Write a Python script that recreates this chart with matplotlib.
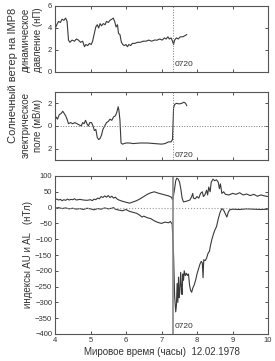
import matplotlib
matplotlib.use("Agg")
import matplotlib.pyplot as plt

plt.rcParams['font.family'] = ['Liberation Sans', 'DejaVu Sans']

# ---- data ----
p_time = [4.00, 4.05, 4.10, 4.15, 4.20, 4.25, 4.30, 4.34, 4.38, 4.42, 4.48, 4.55, 4.60, 4.66, 4.72,
          4.78, 4.83, 4.87, 4.92, 4.97, 5.02, 5.06, 5.10, 5.15, 5.19, 5.23, 5.27, 5.31, 5.36, 5.41,
          5.45, 5.50, 5.55, 5.60, 5.64, 5.68, 5.72, 5.76, 5.79, 5.83, 5.87, 5.91, 5.95, 6.00, 6.04,
          6.08, 6.13, 6.18, 6.25, 6.32, 6.40, 6.48, 6.56, 6.64, 6.72, 6.80, 6.88, 6.95, 7.02, 7.08,
          7.13, 7.18, 7.22, 7.27, 7.31, 7.34, 7.37, 7.42, 7.47, 7.53, 7.60, 7.66, 7.71]
p_val = [3.9, 4.3, 4.6, 4.5, 4.8, 4.7, 4.9, 4.6, 2.9, 2.7, 2.9, 2.8, 3.0, 2.9, 2.7,
         2.8, 2.3, 2.5, 2.4, 2.6, 2.5, 2.8, 3.4, 4.1, 4.3, 4.0, 4.4, 4.2, 4.4, 4.3,
         4.6, 4.5, 4.7, 4.8, 4.9, 4.6, 4.1, 4.3, 3.5, 3.4, 2.7, 2.5, 2.4, 2.5, 2.3,
         2.5, 2.4, 2.6, 2.6, 2.7, 2.7, 2.8, 2.8, 2.9, 2.8, 2.9, 2.9, 3.0, 2.9, 3.1,
         3.0, 3.2, 3.0, 3.1, 2.8, 2.5, 2.9, 3.1, 3.0, 3.2, 3.2, 3.3, 3.4]

e_time = [4.00, 4.03, 4.07, 4.12, 4.17, 4.22, 4.26, 4.30, 4.34, 4.38, 4.44, 4.50, 4.56, 4.62, 4.68,
          4.74, 4.78, 4.82, 4.86, 4.90, 4.94, 4.98, 5.03, 5.07, 5.11, 5.15, 5.19, 5.23, 5.27, 5.31,
          5.35, 5.40, 5.45, 5.50, 5.55, 5.60, 5.65, 5.70, 5.74, 5.78, 5.80, 5.83, 5.86, 5.90, 6.00,
          6.10, 6.20, 6.40, 6.60, 6.80, 7.00, 7.10, 7.20, 7.27, 7.31, 7.34, 7.37, 7.42, 7.50, 7.57,
          7.63, 7.68, 7.71]
e_val = [0.5, 0.8, 0.6, 1.0, 1.1, 1.3, 1.1, 0.9, 0.6, 0.2, 0.3, 0.2, 0.3, 0.2, 0.1,
         0.0, 0.3, 0.2, 0.5, 0.2, 0.0, 0.3, 0.3, 0.0, -0.4, -0.3, -1.0, -1.2, -1.1, -0.8,
         -0.3, 0.0, 0.3, 0.4, 0.6, 0.5, 0.8, 0.9, 1.2, 1.7, 1.4, 0.5, -1.5, -1.6, -1.5,
         -1.5, -1.55, -1.5, -1.5, -1.55, -1.6, -1.55, -1.4, -1.4, -1.2, 1.6, 1.9, 2.0, 1.95, 2.0,
         2.1, 2.0, 1.8]

au_time = [4.00, 4.05, 4.10, 4.15, 4.20, 4.25, 4.30, 4.35, 4.40, 4.45, 4.50, 4.55, 4.60, 4.70, 4.80,
           4.90, 5.00, 5.05, 5.10, 5.15, 5.20, 5.25, 5.30, 5.35, 5.40, 5.45, 5.50, 5.55, 5.60, 5.65,
           5.70, 5.75, 5.80, 5.90, 6.00, 6.10, 6.20, 6.30, 6.40, 6.50, 6.60, 6.70, 6.80, 6.90, 7.00,
           7.10, 7.20, 7.28, 7.31, 7.34, 7.37, 7.40, 7.43, 7.47, 7.51, 7.55, 7.58, 7.62, 7.70, 7.75,
           7.80, 7.85, 7.88, 7.90, 7.95, 8.00, 8.05, 8.10, 8.15, 8.18, 8.22, 8.27, 8.30, 8.33, 8.37,
           8.40, 8.45, 8.50, 8.55, 8.60, 8.63, 8.66, 8.70, 8.75, 8.80, 8.90, 9.00, 9.10, 9.20, 9.30,
           9.40, 9.50, 9.60, 9.70, 9.80, 9.90, 10.00]
au_val = [25, 27, 24, 26, 22, 25, 23, 27, 24, 26, 25, 28, 24, 26, 24,
          23, 25, 22, 27, 25, 30, 28, 35, 32, 37, 33, 38, 32, 36, 30,
          33, 27, 24, 20, 17, 14, 18, 22, 28, 35, 42, 47, 50, 46, 43,
          40, 37, 33, 25, 40, 60, 85, 93, 90, 80, 55, 30, 18, 20, 22,
          24, 35, 45, 30, 28, 35, 30, 45, 50, 35, 40, 55, 40, 65, 50,
          80, 90, 85, 88, 80, 60, 75, 45, 50, 42, 40, 45, 42, 47, 40,
          43, 38, 42, 36, 40, 37, 35]

al_time = [4.00, 4.10, 4.20, 4.30, 4.40, 4.50, 4.60, 4.70, 4.80, 4.90, 5.00, 5.10, 5.20, 5.30, 5.40,
           5.50, 5.60, 5.65, 5.70, 5.80, 5.90, 6.00, 6.10, 6.20, 6.30, 6.40, 6.45, 6.50, 6.60, 6.70,
           6.80, 6.90, 7.00, 7.10, 7.20, 7.25, 7.30, 7.34, 7.37, 7.40, 7.42, 7.44, 7.46, 7.48, 7.50,
           7.52, 7.54, 7.56, 7.58, 7.60, 7.62, 7.64, 7.67, 7.70, 7.73, 7.76, 7.79, 7.82, 7.85, 7.88,
           7.92, 7.96, 8.00, 8.04, 8.08, 8.12, 8.15, 8.17, 8.19, 8.23, 8.27, 8.31, 8.35, 8.38, 8.42,
           8.46, 8.50, 8.55, 8.60, 8.65, 8.70, 8.75, 8.80, 8.84, 8.88, 8.92, 9.00, 9.20, 9.40, 9.60,
           9.80, 10.00]
al_val = [-2, 0, -3, -1, -4, -2, -5, -3, -6, -2, -4, -7, -3, -5, -1,
          -4, -2, 0, -5, -8, -10, -6, -12, -15, -18, -25, -30, -27, -32, -35,
          -42, -47, -50, -46, -48, -44, -52, -150, -280, -330, -310, -240, -300, -220, -285,
          -260, -205, -250, -275, -210, -230, -200, -215, -208, -215, -210, -245, -262, -268, -255,
          -245, -230, -210, -195, -180, -170, -175, -222, -165, -168, -160, -145, -138, -120, -100,
          -85, -72, -60, -35, -15, -3, -8, -20, -30, -15, -7, -5, -6, -4, -5,
          -6, -5]

x_ticks = [4, 5, 6, 7, 8, 9, 10]
p_ticks = [0, 2, 4, 6]
e_ticks = [-2, 0, 2]
e_ticklabels = ['2', '0', '2']
ae_ticks = [100, 50, 0, -50, -100, -150, -200, -250, -300, -350, -400]
event_time = 7.33
event_label = '0720'

# ---- figure ----
W, H = 275, 361
fig = plt.figure(figsize=(W / 100, H / 100), dpi=100)

def frac(top, bottom):
    return [55 / W, 1 - bottom / H, (268 - 55) / W, (bottom - top) / H]

ax1 = fig.add_axes(frac(6, 72))
ax2 = fig.add_axes(frac(92, 160))
ax3 = fig.add_axes(frac(176, 334))

lc = '#3a3a3a'
tc = '#333333'
for ax in (ax1, ax2, ax3):
    ax.set_xlim(4, 10)
    ax.set_xticks(x_ticks)
    ax.tick_params(direction='in', length=2.5, width=0.6, top=True, right=True,
                   labelsize=5.5, colors=tc, pad=2)
    for s in ax.spines.values():
        s.set_linewidth(0.8)
        s.set_color('#555555')

ax1.plot(p_time, p_val, color=lc, lw=0.8)
ax1.set_ylim(0, 6)
ax1.set_yticks(p_ticks)
ax1.set_xticklabels([])
ax1.axvline(event_time, color='#777777', lw=0.7, ls=':')
ax1.text(event_time + 0.04, 0.4, event_label, fontsize=6, color=tc, va='bottom')

ax2.plot(e_time, e_val, color=lc, lw=0.8)
ax2.set_ylim(-3, 3)
ax2.set_yticks(e_ticks)
ax2.set_yticklabels(e_ticklabels)
ax2.set_xticklabels([])
ax2.axhline(0, color='#777777', lw=0.7, ls=':')
ax2.axvline(event_time, color='#777777', lw=0.7, ls=':')
ax2.text(event_time + 0.04, -2.9, event_label, fontsize=6, color=tc, va='bottom')

ax3.plot(au_time, au_val, color=lc, lw=0.8)
ax3.plot(al_time, al_val, color=lc, lw=0.8)
ax3.set_ylim(-400, 100)
ax3.set_yticks(ae_ticks)
ax3.axhline(0, color='#999999', lw=0.8, ls=':')
ax3.axvline(event_time, color='#888888', lw=1.2)
ax3.text(event_time + 0.04, -388, event_label, fontsize=6, color=tc, va='bottom')
ax3.set_xlabel('Мировое время (часы)  12.02.1978', fontsize=7, color=tc, labelpad=2)

# y labels
fig.text(13 / W, 1 - 75 / H, 'Солнечный ветер на IMP8', rotation=90, fontsize=8,
         color=tc, ha='center', va='center')
fig.text(32 / W, 1 - 40 / H, 'динамическое\nдавление (нП)', rotation=90, fontsize=7,
         color=tc, ha='center', va='center', linespacing=1.2)
fig.text(32 / W, 1 - 125 / H, 'электрическое\nполе (мВ/м)', rotation=90, fontsize=7,
         color=tc, ha='center', va='center', linespacing=1.2)
fig.text(28 / W, 1 - 255 / H, 'индексы AU и AL   (нТл)', rotation=90, fontsize=7,
         color=tc, ha='center', va='center')

fig.savefig('out.png', dpi=100, facecolor='white')
